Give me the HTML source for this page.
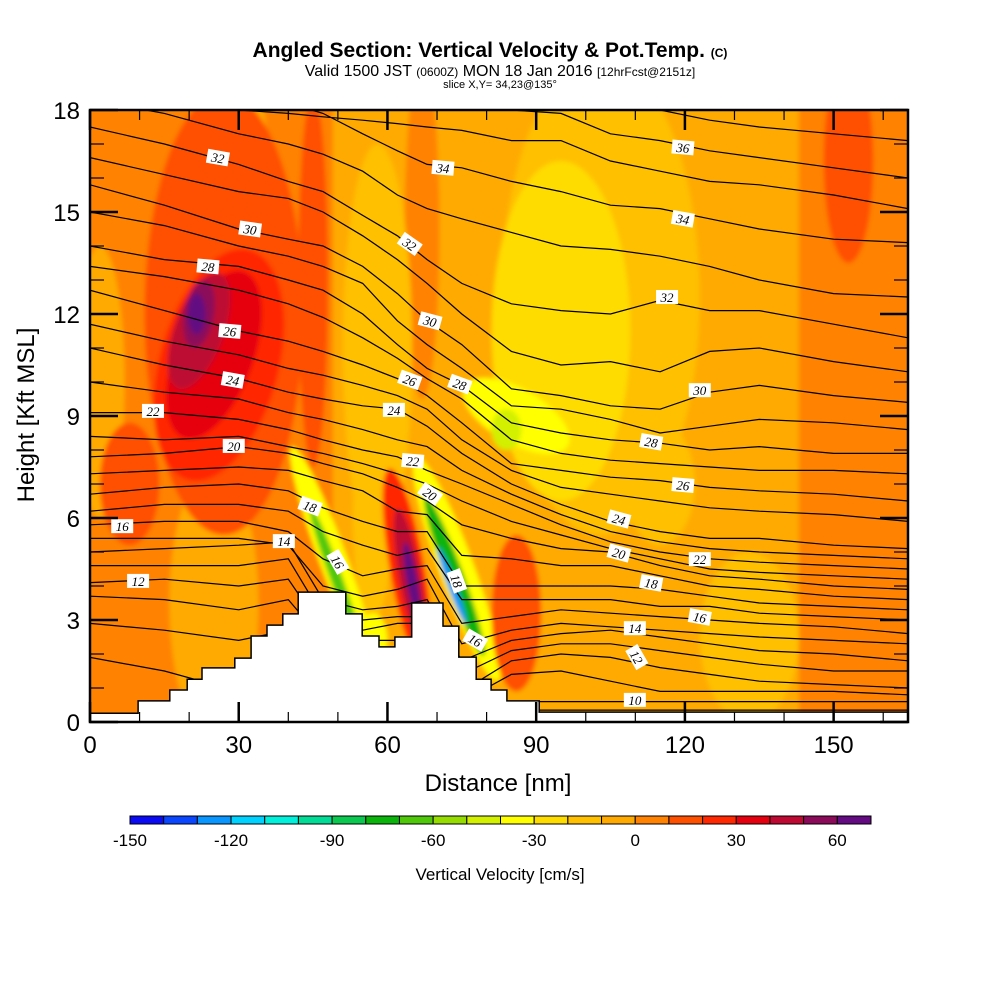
<!DOCTYPE html>
<html><head><meta charset="utf-8"><style>
body{margin:0;background:#fff;}
svg{display:block;font-family:"Liberation Sans",sans-serif;}
</style></head><body>
<svg id="chart" width="1000" height="1000" viewBox="0 0 1000 1000">
<defs>
<clipPath id="plotclip"><rect x="90" y="110" width="818" height="612"/></clipPath>
<filter id="soft" x="-5%" y="-5%" width="110%" height="110%"><feGaussianBlur stdDeviation="2.5"/></filter>
</defs>
<g>
<text x="490" y="57" text-anchor="middle" font-size="21" font-weight="bold">Angled Section: Vertical Velocity &amp; Pot.Temp. <tspan font-size="12">(C)</tspan></text>
<text x="500" y="76" text-anchor="middle" font-size="16">Valid 1500 JST <tspan font-size="12">(0600Z)</tspan> MON 18 Jan 2016 <tspan font-size="12">[12hrFcst@2151z]</tspan></text>
<text x="500" y="88" text-anchor="middle" font-size="11">slice X,Y= 34,23@135°</text>
</g>
<g id="field" clip-path="url(#plotclip)"></g>
<g id="contours" clip-path="url(#plotclip)"></g>
<g id="terrain"></g>
<g id="clabels" clip-path="url(#plotclip)"></g>
<g id="axes"></g>
<g id="cbar"></g>
</svg>
<script>
const NS="http://www.w3.org/2000/svg";
// ---- data ----
const xTicks=[0,30,60,90,120,150];
const yTicks=[0,3,6,9,12,15,18];
const cbarTicks=[-150,-120,-90,-60,-30,0,30,60];
const cbarColors=["#0a0af5","#0a46ff","#0a96ff","#00d2ff","#00f0dc","#00dc96","#0ac850","#0ab40a","#50c80a","#96dc00","#d2f000","#ffff00","#ffdc00","#ffc000","#ffaa00","#ff8200","#ff5000","#ff2800","#e6000f","#be0a32","#8c0a5a","#640a82"];
const stations=[0,15,30,40,47,55,62,68,75,85,95,105,115,125,135,150,165];
const thetaLevels=[37,36,35,34,33,32,31,30,29,28,27,26,25,24,23,22,21,20,19,18,17,16,15,14,13,12,11,10,9];
const thetaHeights=[
[19.5,19.2,18.9,18.7,18.6,18.6,18.5,18.4,18.4,18.3,18.2,18.1,18.0,17.7,17.5,17.3,17.1],
[19.0,18.7,18.4,18.3,18.2,18.2,18.1,18.1,18.0,18.0,17.9,17.3,17.1,16.8,16.6,16.3,16.0],
[18.6,18.3,18.0,17.9,17.8,17.7,17.6,17.5,17.4,17.1,17.1,16.5,16.2,15.9,15.8,15.5,15.1],
[18.7,18.5,18.3,18.2,17.9,17.3,16.8,16.4,16.3,15.9,15.6,15.2,15.1,14.8,14.5,14.2,14.1],
[18.3,17.9,17.3,17.0,16.7,16.2,15.5,15.1,14.8,14.4,14.0,13.9,13.7,13.4,13.0,12.6,12.5],
[17.5,17.0,16.4,15.9,15.6,14.9,14.3,13.6,12.9,12.3,12.1,12.0,12.4,12.1,12.1,11.7,11.3],
[16.6,16.1,15.6,15.4,15.0,14.3,13.6,12.9,12.0,10.9,10.5,10.6,10.3,10.9,11.0,10.6,10.3],
[15.8,15.2,14.5,14.2,14.0,13.4,12.6,11.8,11.1,9.8,9.6,9.3,9.2,9.7,9.9,9.6,9.4],
[15.0,14.6,14.0,13.7,13.4,12.9,11.8,11.1,10.4,9.3,9.2,8.9,8.5,8.7,8.9,8.8,8.6],
[14.0,13.6,13.4,13.0,12.7,12.0,11.1,10.4,9.9,8.8,8.5,8.3,8.2,8.0,8.1,7.9,7.9],
[13.4,13.1,12.7,12.3,11.9,11.3,10.7,10.1,9.5,8.3,7.9,7.7,7.6,7.5,7.4,7.4,7.3],
[12.7,12.1,11.5,11.2,10.9,10.5,10.1,9.6,8.8,7.6,7.4,7.2,7.1,6.9,6.8,6.7,6.5],
[11.7,11.2,10.8,10.4,10.2,9.9,9.6,9.2,8.3,7.4,6.9,6.7,6.5,6.3,6.2,6.1,5.9],
[11.0,10.5,10.1,9.7,9.5,9.3,9.2,8.7,7.9,7.0,6.4,5.9,5.6,5.4,5.4,5.2,5.1],
[10.0,9.7,9.5,9.1,8.9,8.6,8.3,8.1,7.4,6.7,6.1,5.6,5.3,5.1,5.0,4.9,4.8],
[9.1,9.1,8.9,8.6,8.3,8.0,7.8,7.4,7.0,6.4,5.8,5.3,5.0,4.8,4.7,4.6,4.5],
[8.4,8.3,8.4,8.1,7.9,7.6,7.3,7.0,6.5,5.9,5.5,5.1,4.8,4.5,4.4,4.3,4.2],
[7.8,7.9,8.1,7.9,7.6,7.3,6.9,6.5,5.8,5.4,5.1,5.0,4.6,4.3,4.2,4.0,3.9],
[7.3,7.4,7.5,7.4,7.1,6.8,6.2,6.1,4.9,4.8,4.6,4.6,4.3,4.0,3.9,3.7,3.6],
[6.7,6.9,7.0,6.8,6.3,5.9,5.6,5.6,4.0,4.0,4.0,4.0,3.9,3.7,3.5,3.4,3.3],
[6.2,6.4,6.4,6.2,5.6,5.2,4.9,5.1,3.6,3.6,3.6,3.6,3.4,3.4,3.2,3.1,3.0],
[5.8,5.9,5.9,5.6,4.8,4.3,4.5,4.6,2.9,3.1,3.3,3.2,3.1,3.0,2.9,2.8,2.6],
[5.4,5.4,5.4,5.2,4.0,3.7,3.9,4.2,2.3,2.7,2.9,2.8,2.7,2.6,2.5,2.4,2.3],
[5.0,5.1,5.2,5.3,3.6,3.3,3.4,3.6,1.8,2.4,2.6,2.7,2.5,2.3,2.1,2.0,1.8],
[4.6,4.6,4.6,4.8,3.1,3.0,3.1,3.1,1.4,2.1,2.3,2.3,2.1,1.9,1.7,1.5,1.5],
[4.1,4.2,4.0,4.2,2.7,2.7,2.9,2.9,0.9,1.8,2.0,1.9,1.6,1.4,1.2,1.1,1.0],
[3.7,3.6,3.3,3.6,2.4,2.4,2.4,2.4,0.6,1.4,1.5,1.2,0.9,0.9,0.9,0.9,0.8],
[2.9,2.7,2.4,2.7,2.1,2.1,2.1,2.1,0.5,0.6,0.6,0.6,0.6,0.6,0.6,0.6,0.6],
[1.9,1.5,0.9,0.9,0.6,0.6,0.6,0.6,0.4,0.35,0.35,0.35,0.35,0.35,0.35,0.35,0.35]
];
const labelText=[32,34,36,30,34,32,28,32,30,26,24,26,28,30,22,24,28,20,22,26,20,18,24,14,16,20,22,16,12,18,18,16,16,14,12,10];
const labelNm=[25.8,71.2,119.6,32.3,119.6,64.5,23.8,116.4,68.6,28.2,28.8,64.5,74.6,123.0,12.7,61.3,113.2,29.0,65.1,119.6,68.6,44.4,106.7,39.1,50.0,106.7,123.0,6.5,9.7,74.0,113.2,77.7,123.0,109.9,110.3,109.9];
const labelKft=[16.6,16.3,16.9,14.5,14.8,14.06,13.4,12.5,11.8,11.5,10.06,10.06,9.94,9.76,9.15,9.18,8.24,8.12,7.68,6.97,6.71,6.35,5.97,5.32,4.71,4.97,4.79,5.76,4.15,4.15,4.09,2.41,3.09,2.76,1.91,0.65];
const labelAngle=[10,5,5,8,10,35,5,0,15,5,10,20,20,0,0,0,10,0,5,5,35,20,15,0,60,15,0,0,0,70,10,30,10,0,60,0];
const terrNm=[0,9.7,16.1,19.6,22.6,29.2,32.5,35.7,38.9,42.0,51.6,54.9,58.3,61.5,64.9,71.2,74.4,77.9,80.9,84.1,90.6];
const terrKft=[0.26,0.62,0.94,1.26,1.59,1.88,2.53,2.85,3.18,3.82,3.18,2.53,2.21,2.5,3.5,2.82,1.91,1.26,0.94,0.62,0.29];
// velocity blobs: shape, centre nm, centre kft, half-width nm, half-height kft, tilt deg, value cm/s
const blobShape=["r","e","e","e","r","e","e","e","e","e","e","e","e","e","e","e","e","e","e","e","e","e","e","e","e","e","e","e","e","e","e","e","e"];
const blobX=[96,2,25,33,152,67,103,58,133,115,95,86,84,27,45,26,25,22,22,21.5,153,8,57,49,49.5,64,64.5,65,74,73.5,73,86,57];
const blobY=[9,10,3.5,14.5,10,14.5,12.5,11,2.5,7,11.5,9.0,8.6,12,13,10.5,10.8,11.5,12,12,16.5,7,6,4.8,4.3,4.5,4.3,4.1,4.5,4.3,4.0,3.2,2.4];
const blobRX=[47,5,9,4,9,3.5,20,7,10,7,14,12,3,16,3,12,8,5,3,1.8,5,6,4,2.8,1.2,3.5,2.2,1.1,3.5,1.8,0.8,5,3];
const blobRY=[10,4,4,4,10,5,7,6,2.5,1.8,5,0.8,0.6,6.5,5.5,3.5,2.6,1.8,1,0.6,3,1.8,3,3.5,2.2,3,2,1.2,3.5,2.5,1.2,2.3,0.8];
const blobTilt=[0,0,0,0,0,0,0,0,0,0,0,30,0,0,0,15,20,20,10,0,0,0,0,-20,-20,-10,-10,-10,-20,-20,-20,0,0];
const blobV=[-5,-5,-5,-5,5,5,-15,-15,-15,-15,-25,-35,-45,15,15,25,35,45,55,65,15,15,-15,-35,-65,25,45,65,-35,-75,-125,15,-35];
// ---- scales ----
const X0=90,X1=908,Y0=722,Y1=110,XMAX=165,YMAX=18;
const sx=n=>X0+n*(X1-X0)/XMAX;
const sy=k=>Y0-k*(Y0-Y1)/YMAX;
const colorFor=v=>cbarColors[Math.max(0,Math.min(21,Math.floor((v+150)/10)))];
function mk(tag,attrs,parent){const e=document.createElementNS(NS,tag);for(const k in attrs)e.setAttribute(k,attrs[k]);parent.appendChild(e);return e;}
// ---- field ----
const field=document.getElementById('field');
const fg=mk('g',{filter:'url(#soft)'},field);
mk('rect',{x:80,y:100,width:840,height:640,fill:colorFor(5)},fg);
for(let i=0;i<blobX.length;i++){
  const cx=sx(blobX[i]),cy=sy(blobY[i]);
  const rx=sx(blobRX[i])-sx(0),ry=sy(0)-sy(blobRY[i]);
  let el;
  if(blobShape[i]==="r"){el=mk('rect',{x:cx-rx,y:cy-ry,width:2*rx,height:2*ry,fill:colorFor(blobV[i])},fg);}
  else{el=mk('ellipse',{cx:cx,cy:cy,rx:rx,ry:ry,fill:colorFor(blobV[i]),transform:`rotate(${blobTilt[i]} ${cx} ${cy})`},fg);}
  
  
}
// ---- contours ----
const cg=document.getElementById('contours');
thetaLevels.forEach((lv,j)=>{
  const d=stations.map((n,i)=>(i?'L':'M')+sx(n).toFixed(1)+' '+sy(thetaHeights[j][i]).toFixed(1)).join(' ');
  const p=mk('path',{d:d,fill:'none',stroke:'#000','stroke-width':1.2},cg);
  
  
});
// ---- terrain ----
const tg=document.getElementById('terrain');
let td='M'+sx(0)+' '+sy(0);
for(let i=0;i<terrNm.length;i++){
  const xa=sx(terrNm[i]),xb=sx(i+1<terrNm.length?terrNm[i+1]:XMAX),y=sy(terrKft[i]);
  td+=' L'+xa.toFixed(1)+' '+y.toFixed(1)+' L'+xb.toFixed(1)+' '+y.toFixed(1);
}
td+=' L'+sx(XMAX)+' '+sy(0)+' Z';
const tp=mk('path',{d:td,fill:'#fff',stroke:'#000','stroke-width':1.5},tg);


// ---- contour labels ----
const lg=document.getElementById('clabels');
labelText.forEach((t,i)=>{
  const x=sx(labelNm[i]),y=sy(labelKft[i]);
  const g=mk('g',{transform:`translate(${x} ${y}) rotate(${labelAngle[i]})`},lg);
  
  
  mk('rect',{x:-11,y:-7,width:22,height:14,fill:'#fff'},g);
  const tx=mk('text',{x:0,y:5,'text-anchor':'middle','font-size':13,'font-family':'"Liberation Serif",serif','font-style':'italic'},g);
  tx.textContent=t;
});
// ---- axes ----
const ax=document.getElementById('axes');
const fr=mk('rect',{x:X0,y:Y1,width:X1-X0,height:Y0-Y1,fill:'none',stroke:'#000','stroke-width':2.5},ax);


for(let n=0;n<=XMAX;n+=10){
  const L=(n%30===0)?20:10,x=sx(n);
  mk('line',{x1:x,y1:Y0,x2:x,y2:Y0-L,stroke:'#000','stroke-width':n%30===0?2.5:1.2},ax);
  mk('line',{x1:x,y1:Y1,x2:x,y2:Y1+L,stroke:'#000','stroke-width':n%30===0?2.5:1.2},ax);
}
for(let k=0;k<=YMAX;k++){
  const L=(k%3===0)?28:14,y=sy(k);
  mk('line',{x1:X0,y1:y,x2:X0+L,y2:y,stroke:'#000','stroke-width':k%3===0?2.5:1.2},ax);
  mk('line',{x1:X1,y1:y,x2:X1-L,y2:y,stroke:'#000','stroke-width':k%3===0?2.5:1.2},ax);
}
xTicks.forEach(v=>{const t=mk('text',{x:sx(v),y:753,'text-anchor':'middle','font-size':24},ax);t.textContent=v;
  });
yTicks.forEach(v=>{const t=mk('text',{x:80,y:sy(v)+9,'text-anchor':'end','font-size':24},ax);t.textContent=v;
  });
const xt=mk('text',{x:498,y:791,'text-anchor':'middle','font-size':24},ax);xt.textContent='Distance [nm]';

const yt=mk('text',{x:0,y:0,'text-anchor':'middle','font-size':24,transform:'translate(34 415) rotate(-90)'},ax);yt.textContent='Height [Kft MSL]';

// ---- colorbar ----
const cb=document.getElementById('cbar');
const CB0=130,CB1=871,cw=(CB1-CB0)/cbarColors.length;
const cbx=v=>CB0+(v+150)*(CB1-CB0)/220;
cbarColors.forEach((c,i)=>{const r=mk('rect',{x:CB0+i*cw,y:816,width:cw,height:8,fill:c,stroke:'#000','stroke-width':1},cb);
  });
cbarTicks.forEach(v=>{const t=mk('text',{x:cbx(v),y:846,'text-anchor':'middle','font-size':17},cb);t.textContent=v;
  });
const ct=mk('text',{x:500,y:880,'text-anchor':'middle','font-size':17},cb);ct.textContent='Vertical Velocity [cm/s]';

</script>
</body></html>
